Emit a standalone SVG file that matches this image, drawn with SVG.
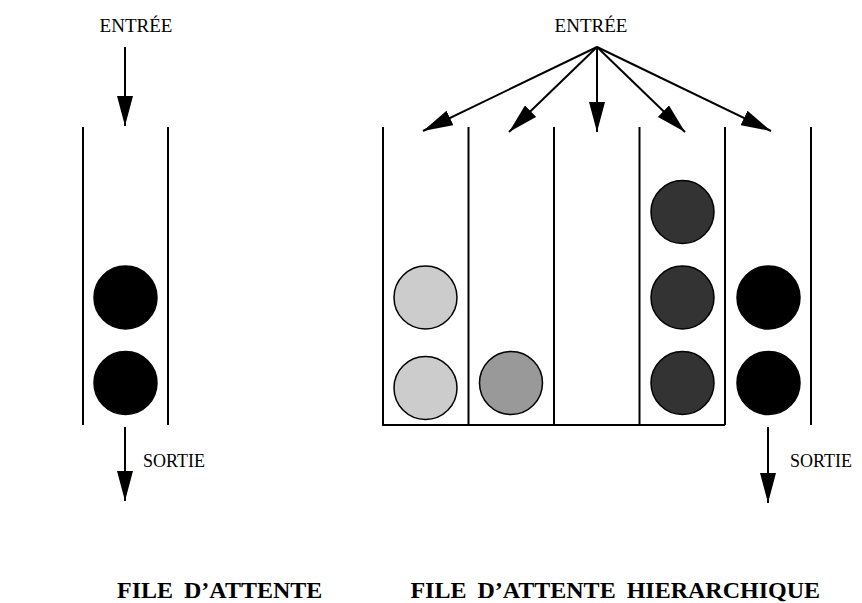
<svg xmlns="http://www.w3.org/2000/svg" width="862" height="603" viewBox="0 0 862 603">
<defs>
<style>
.w{stroke:#000;stroke-width:2;fill:none;stroke-linecap:butt}
.c{stroke:#000;stroke-width:1.5}
.lbl{font-family:"Liberation Serif","Times New Roman",serif;font-size:18px;fill:#000}
.ttl{font-family:"Liberation Serif","Times New Roman",serif;font-size:24px;font-weight:bold;fill:#000;word-spacing:5px}
.a{stroke:#000;stroke-width:2;fill:none;marker-end:url(#ah)}
</style>
<marker id="ah" markerUnits="userSpaceOnUse" viewBox="0 0 30 16" refX="30" refY="8" markerWidth="30" markerHeight="16" orient="auto">
<path d="M0,0 L30,8 L0,16 Z" fill="#000"/>
</marker>
</defs>
<rect width="862" height="603" fill="#fff"/>

<g id="queue-simple">
<line class="w" x1="83" y1="127" x2="83" y2="425"/>
<line class="w" x1="168" y1="127" x2="168" y2="425"/>
<circle class="c" cx="125.5" cy="297.5" r="31.5" fill="#000"/>
<circle class="c" cx="125.5" cy="383" r="31.5" fill="#000"/>
</g>

<g id="queue-hier">
<path class="w" d="M383,127 V425 H725 M468.5,127 V425 M554,127 V425 M639.5,127 V425 M725,127 V425 M811,127 V425"/>
<circle class="c" cx="425.5" cy="297.5" r="31.5" fill="#ccc"/>
<circle class="c" cx="425.5" cy="388" r="31.5" fill="#ccc"/>
<circle class="c" cx="511" cy="383" r="31.5" fill="#999"/>
<circle class="c" cx="682.5" cy="212" r="31.5" fill="#333"/>
<circle class="c" cx="682.5" cy="297.5" r="31.5" fill="#333"/>
<circle class="c" cx="682.5" cy="383" r="31.5" fill="#333"/>
<circle class="c" cx="768.5" cy="297.5" r="31.5" fill="#000"/>
<circle class="c" cx="768.5" cy="383" r="31.5" fill="#000"/>
</g>

<g id="connectors">
<line class="a" x1="125" y1="47" x2="125" y2="126"/>
<line class="a" x1="125" y1="427" x2="125" y2="501"/>
<line class="a" x1="597" y1="47" x2="423" y2="131"/>
<line class="a" x1="597" y1="47" x2="509" y2="132"/>
<line class="a" x1="597" y1="47" x2="597" y2="132"/>
<line class="a" x1="597" y1="47" x2="685" y2="132"/>
<line class="a" x1="597" y1="47" x2="771" y2="131"/>
<line class="a" x1="768" y1="427" x2="768" y2="503"/>
</g>

<g id="labels">
<text class="lbl" x="136" y="32" text-anchor="middle" style="font-size:19px">ENTRÉE</text>
<text class="lbl" x="591" y="32" text-anchor="middle" style="font-size:19px">ENTRÉE</text>
<text class="lbl" x="143" y="467">SORTIE</text>
<text class="lbl" x="790" y="467">SORTIE</text>
<text class="ttl" x="117" y="598">FILE D’ATTENTE</text>
<text class="ttl" x="820" y="598" text-anchor="end">FILE D’ATTENTE HIERARCHIQUE</text>
</g>
</svg>
